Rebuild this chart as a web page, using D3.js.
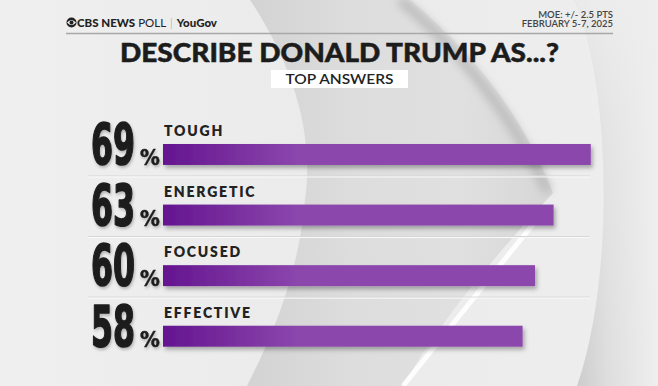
<!DOCTYPE html>
<html>
<head>
<meta charset="utf-8">
<script src="https://cdn.jsdelivr.net/npm/d3@7"></script>
<style>
  html, body { margin: 0; padding: 0; background: #ececec; }
  svg { display: block; }
</style>
</head>
<body>
<div id="chart"></div>
<script>
const WIDTH = 658;
const HEIGHT = 386;

const categories = ['TOUGH', 'ENERGETIC', 'FOCUSED', 'EFFECTIVE'];
const values = [69, 63, 60, 58];

const title = 'DESCRIBE DONALD TRUMP AS...?';
const subtitle = 'TOP ANSWERS';
const moeLines = ['MOE: +/- 2.5 PTS', 'FEBRUARY 5-7, 2025'];

const rows = categories.map((c, i) => ({ name: c, value: values[i] }));

const svg = d3.select('#chart').append('svg')
  .attr('width', WIDTH)
  .attr('height', HEIGHT);

const defs = svg.append('defs');

const gradient = (id, stops, attrs = {}) => {
  const g = defs.append('linearGradient').attr('id', id);
  Object.entries(attrs).forEach(([k, v]) => g.attr(k, v));
  stops.forEach(([offset, color, opacity = 1]) => {
    g.append('stop')
      .attr('offset', offset)
      .attr('stop-color', color)
      .attr('stop-opacity', opacity);
  });
  return g;
};

// background gradients
gradient('bg', [[0, '#efefef'], [0.5, '#ebebeb'], [1, '#eeeeee']], { x1: 0, x2: 1 });
gradient('rightSide', [[0, '#cbcbcb'], [0.4, '#dedede'], [1, '#efefef']], { x1: 0, x2: 1 });
gradient('rightFade', [[0, '#eeeeee', 0.9], [0.35, '#eeeeee', 0.4], [1, '#eeeeee', 0]], { x1: 0, y1: 0, x2: 0, y2: 1 });
gradient('band', [[0, '#d3d3d3'], [0.35, '#dddddd'], [0.7, '#e0e0e0'], [1, '#d6d6d6']], { x1: 0, x2: 1 });

gradient('barFill', [[0, '#64158f'], [1, '#8c47ad']], {
  gradientUnits: 'userSpaceOnUse', x1: 163, x2: 300,
});

const blur = defs.append('filter').attr('id', 'blur');
blur.append('feGaussianBlur').attr('stdDeviation', 4);

const barShadow = defs.append('filter').attr('id', 'barShadow')
  .attr('x', '-5%').attr('y', '-30%').attr('width', '115%').attr('height', '200%');
barShadow.append('feDropShadow')
  .attr('dx', 2).attr('dy', 3).attr('stdDeviation', 2)
  .attr('flood-color', '#000').attr('flood-opacity', 0.3);

const numShadow = defs.append('filter').attr('id', 'numShadow');
numShadow.append('feDropShadow')
  .attr('dx', 1).attr('dy', 2).attr('stdDeviation', 1.5)
  .attr('flood-color', '#000').attr('flood-opacity', 0.25);

// background shapes
const bg = svg.append('g').attr('class', 'background');

bg.append('rect').attr('width', WIDTH).attr('height', HEIGHT).attr('fill', 'url(#bg)');

bg.append('path')
  .attr('d', 'M575,0 C612,90 614,280 577,386 L658,386 L658,0 Z')
  .attr('fill', 'url(#rightSide)');

bg.append('path')
  .attr('d', 'M575,0 C612,90 614,280 577,386 L658,386 L658,0 Z')
  .attr('fill', 'url(#rightFade)');

bg.append('path')
  .attr('d', 'M250,0 C290,60 315,130 305,200 C298,280 270,340 247,386 L403,386 C440,320 500,250 553,193 C520,110 470,50 410,0 Z')
  .attr('fill', 'url(#band)');

// shadow along the inner edge of the band
bg.append('path')
  .attr('d', 'M400,0 C460,50 512,115 548,192')
  .attr('fill', 'none')
  .attr('stroke', '#bdbdbd')
  .attr('stroke-width', 10)
  .attr('filter', 'url(#blur)');

bg.append('path')
  .attr('d', 'M538,218 Q480,290 403,386')
  .attr('fill', 'none')
  .attr('stroke', '#ffffff')
  .attr('stroke-opacity', 0.9)
  .attr('stroke-width', 5);

// header
const header = svg.append('g').attr('class', 'header');

header.append('circle').attr('cx', 71.5).attr('cy', 22.5).attr('r', 5).attr('fill', '#222');
header.append('path')
  .attr('d', 'M67,22.5 Q71.5,17.5 76,22.5 Q71.5,27.5 67,22.5 Z')
  .attr('fill', '#eee');
header.append('circle').attr('cx', 71.5).attr('cy', 22.5).attr('r', 2).attr('fill', '#222');

const brand = header.append('text')
  .attr('x', 77)
  .attr('y', 26.5)
  .attr('font-family', 'Lato, "Open Sans", sans-serif')
  .attr('font-size', 11.5)
  .attr('fill', '#222');
brand.append('tspan').attr('font-weight', 900).text('CBS NEWS');
brand.append('tspan').attr('font-weight', 400).attr('dx', 3).text('POLL');
brand.append('tspan').attr('font-weight', 300).attr('fill', '#999').attr('dx', 4).text('|');
brand.append('tspan').attr('font-weight', 900).attr('dx', 4).text('YouGov');

header.selectAll('text.moe')
  .data(moeLines)
  .join('text')
  .attr('class', 'moe')
  .attr('x', 613)
  .attr('y', (d, i) => 17.5 + i * 9.5)
  .attr('text-anchor', 'end')
  .attr('font-family', 'Lato, "Open Sans", sans-serif')
  .attr('font-size', 9.5)
  .attr('font-weight', 600)
  .attr('fill', '#444')
  .text(d => d);

header.append('line')
  .attr('x1', 66).attr('x2', 613)
  .attr('y1', 33.5).attr('y2', 33.5)
  .attr('stroke', '#a8a8a8')
  .attr('stroke-width', 1.3);

header.append('text')
  .attr('x', 339.5)
  .attr('y', 62)
  .attr('text-anchor', 'middle')
  .attr('font-family', 'Lato, "Open Sans", sans-serif')
  .attr('font-size', 26.5)
  .attr('font-weight', 900)
  .attr('fill', '#1c1c1c')
  .attr('stroke', '#1c1c1c')
  .attr('stroke-width', 0.5)
  .attr('textLength', 439)
  .attr('lengthAdjust', 'spacingAndGlyphs')
  .text(title);

header.append('rect')
  .attr('x', 271).attr('y', 70)
  .attr('width', 137).attr('height', 18)
  .attr('fill', '#ffffff');

header.append('text')
  .attr('x', 339.5)
  .attr('y', 84)
  .attr('text-anchor', 'middle')
  .attr('font-family', 'Lato, "Open Sans", sans-serif')
  .attr('font-size', 14)
  .attr('font-weight', 600)
  .attr('fill', '#222')
  .attr('textLength', 108)
  .attr('lengthAdjust', 'spacingAndGlyphs')
  .text(subtitle);

// scales
const x = d3.scaleLinear()
  .domain([0, 100])
  .range([163, 783]);

const y = d3.scaleBand()
  .domain(categories)
  .range([144, 346.7])
  .paddingInner(0.654)
  .paddingOuter(0);

// row separators
const chart = svg.append('g').attr('class', 'chart');

const seps = categories.slice(0, -1);
chart.selectAll('line.sep')
  .data(seps)
  .join('line')
  .attr('class', 'sep')
  .attr('x1', 88).attr('x2', 590)
  .attr('y1', d => y(d) + y.bandwidth() + 11)
  .attr('y2', d => y(d) + y.bandwidth() + 11)
  .attr('stroke', '#d6d6d6')
  .attr('stroke-width', 1);

chart.selectAll('line.sepHi')
  .data(seps)
  .join('line')
  .attr('class', 'sepHi')
  .attr('x1', 88).attr('x2', 590)
  .attr('y1', d => y(d) + y.bandwidth() + 12)
  .attr('y2', d => y(d) + y.bandwidth() + 12)
  .attr('stroke', '#fafafa')
  .attr('stroke-width', 1);

const row = chart.selectAll('g.row')
  .data(rows)
  .join('g')
  .attr('class', 'row');

row.append('rect')
  .attr('x', x(0))
  .attr('y', d => y(d.name))
  .attr('width', d => x(d.value) - x(0))
  .attr('height', y.bandwidth())
  .attr('fill', 'url(#barFill)')
  .attr('filter', 'url(#barShadow)');

row.append('text')
  .attr('x', x(0) + 1)
  .attr('y', d => y(d.name) - 8)
  .attr('font-family', 'Lato, "Open Sans", sans-serif')
  .attr('font-size', 14)
  .attr('font-weight', 800)
  .attr('letter-spacing', 1.8)
  .attr('fill', '#222')
  .text(d => d.name);

// big percentage digits, squeezed horizontally to 44px
const NUM_WIDTH = 44;
const num = row.append('g')
  .attr('filter', 'url(#numShadow)')
  .attr('font-family', '"Liberation Sans Narrow", "DejaVu Sans Condensed", sans-serif')
  .attr('font-weight', 700)
  .attr('fill', '#1d1d1d')
  .attr('stroke', '#1d1d1d')
  .attr('stroke-linejoin', 'round');

num.append('text')
  .attr('font-size', 57)
  .attr('stroke-width', 1.6)
  .text(d => d.value)
  .attr('transform', function(d) {
    const w = this.getComputedTextLength() || NUM_WIDTH;
    return `translate(91,${y(d.name) + y.bandwidth()}) scale(${NUM_WIDTH / w},1)`;
  });

num.append('text')
  .attr('x', 140)
  .attr('y', d => y(d.name) + y.bandwidth())
  .attr('font-size', 22)
  .attr('stroke-width', 0.5)
  .text('%');
</script>
</body>
</html>
